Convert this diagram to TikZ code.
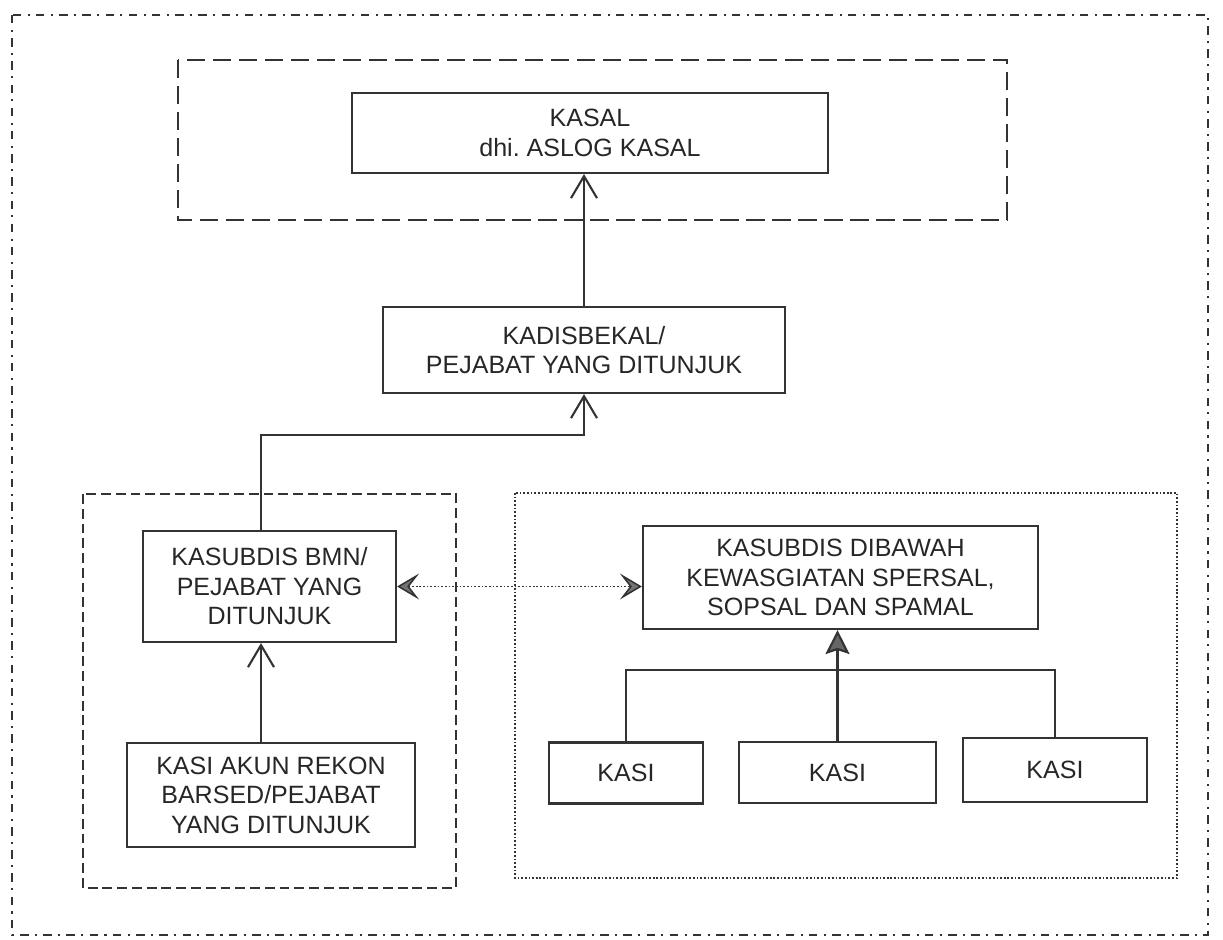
\documentclass[tikz,border=0pt]{standalone}
\usepackage{fontspec}
\setmainfont{Liberation Sans}
\usetikzlibrary{arrows.meta}

\begin{document}
\begin{tikzpicture}[x=0.025cm, y=-0.025cm, >={Straight Barb[length=5.5mm,width=6.5mm]}, line width=1.5pt]
    \tikzstyle{box}=[rectangle,
                     draw=black!80,
                     line width=1.5pt,
                     align=center,
                     inner sep=0pt,
                     text=black!85,
                     font=\fontsize{17.8}{21}\selectfont]
    \tikzstyle{every path}=[color=black!80]
    \tikzstyle{frame}=[line width=1.2pt, dash pattern=on 13pt off 5.5pt]
    \tikzstyle{dotline}=[line width=1.1pt, dash pattern=on 1.2pt off 1.4pt]
    \tikzstyle{twoway}=[dotline, {Stealth[length=5.5mm,width=6.5mm,inset=2.5mm,fill=black!55]}-{Stealth[length=5.5mm,width=6.5mm,inset=2.5mm,fill=black!55]}]

    \useasboundingbox (0,0) rectangle (1223,940);

    % frames
    \draw[line width=1.2pt, dash pattern=on 6pt off 4.5pt on 1.5pt off 4.5pt] (12,15) rectangle (1208,935);
    \draw[frame] (178,60) rectangle (1007,220);
    \draw[line width=1.2pt, dash pattern=on 7pt off 3.5pt] (83,494) rectangle (456,888);
    \draw[dotline] (515,493) rectangle (1177,878);

    \node[box, minimum width=11.875cm, minimum height=2cm]    (A) at (590,133)   {KASAL\\dhi.\ ASLOG KASAL};
    \node[box, minimum width=10.05cm, minimum height=2.15cm]  (B) at (584,350)   {KADISBEKAL/\\PEJABAT YANG DITUNJUK};
    \node[box, minimum width=6.325cm, minimum height=2.775cm] (C) at (269.5,586.5) {KASUBDIS BMN/\\PEJABAT YANG\\DITUNJUK};
    \node[box, minimum width=7.2cm, minimum height=2.6cm]     (D) at (271,795)   {KASI AKUN REKON\\BARSED/PEJABAT\\YANG DITUNJUK};
    \node[box, minimum width=9.875cm, minimum height=2.575cm] (E) at (840.5,577.5) {KASUBDIS DIBAWAH\\KEWASGIATAN SPERSAL,\\SOPSAL DAN SPAMAL};
    \node[box, minimum width=3.85cm, minimum height=1.525cm]  (F1) at (626,773)  {KASI};
    \node[box, minimum width=4.925cm, minimum height=1.525cm] (F2) at (837.5,772.5) {KASI};
    \node[box, minimum width=4.6cm, minimum height=1.6cm]     (F3) at (1055,770) {KASI};

    \coordinate (j1) at (261,435);
    \coordinate (T) at (839,670);

    \draw[->] (B.north) -- (B.north |- A.south);
    \draw[->] (j1 |- C.north) -- (j1) -| (B.south);
    \draw[->] (j1 |- D.north) -- (j1 |- C.south);
    \draw[twoway] (C.east) -- (C.east -| E.west);
    \draw (F1.north) |- (T) -| (F3.north);
    \draw[-{Stealth[length=6mm,width=6mm,inset=1mm,fill=black!60]}] (F2.north) -- (F2.north |- E.south);
\end{tikzpicture}
\end{document}
